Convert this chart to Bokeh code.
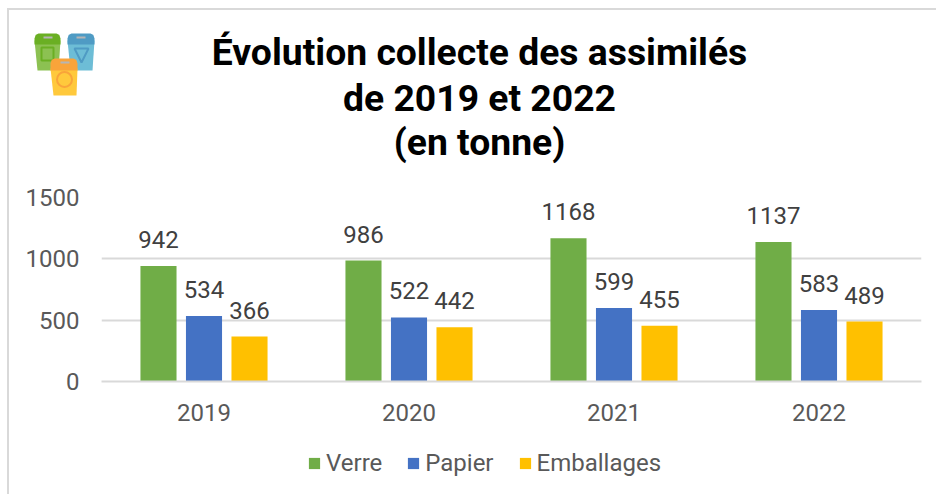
from bokeh.plotting import figure
from bokeh.layouts import column
from bokeh.embed import file_html
from bokeh.resources import INLINE
from bokeh.core.properties import value
from bokeh.models import ColumnDataSource, FactorRange, Range1d, LabelSet, Legend, LegendItem, FixedTicker
from bokeh.transform import dodge

years = ["2019", "2020", "2021", "2022"]
verre = [942, 986, 1168, 1137]
papier = [534, 522, 599, 583]
emballages = [366, 442, 455, 489]
series = [("Verre", verre, "#70ad47", -0.222), ("Papier", papier, "#4472c4", 0.0), ("Emballages", emballages, "#ffc000", 0.222)]
title_lines = ["Évolution collecte des assimilés", "de 2019 et 2022", "(en tonne)"]
y_ticks = [0, 500, 1000, 1500]

FONT = "Roboto"

# header: title and icon, in page pixels
head = figure(width=927, height=165, output_backend="svg", toolbar_location=None, frame_align=False,
              x_range=Range1d(9, 936), y_range=Range1d(175, 10),
              min_border=0, outline_line_color=None, border_fill_color="white", background_fill_color="white")
head.axis.visible = False
head.grid.visible = False
head.text(x=[479, 479, 479], y=[51.5, 97, 141], text=title_lines, text_align="center", text_baseline="middle",
          text_font=value(FONT), text_font_size=value("37.3px"), text_font_style="bold", text_color="black")

def rect(l, r, t, b, color):
    head.quad(left=l, right=r, top=t, bottom=b, fill_color=color, line_color=None)
def cap(l, r, t, b, color):
    head.patch([l, l + 1, l + 2, l + 4, r - 4, r - 2, r - 1, r, r, l], [t + 5, t + 2, t + 1, t, t, t + 1, t + 2, t + 5, b, b], fill_color=color, line_color=None)
def body(xs, ys, color):
    head.patch(xs, ys, fill_color=color, line_color=None)

body([34, 60, 58, 37], [40, 40, 70, 70], "#8cc152")
cap(34, 60, 33, 44, "#6aaf23")
rect(43, 52, 36, 38, "#b5b5b5")
head.patch([41, 53, 53, 41, 41], [47, 47, 60, 60, 47], fill_alpha=0, line_color="#6aaf23", line_width=2)
body([67, 94, 92, 70], [40, 40, 70, 70], "#6dbdd6")
cap(67, 94, 33, 44, "#4f9bc4")
rect(76, 85, 36, 38, "#b5b5b5")
head.patch([74, 88, 81, 74], [48, 48, 62, 48], fill_alpha=0, line_color="#4f9bc4", line_width=2)
body([50, 77, 76, 53], [68, 68, 95, 95], "#ffc93c")
cap(50, 77, 58, 70, "#f9a43a")
rect(60, 69, 61, 63, "#b5b5b5")
head.scatter(x=[64], y=[79], size=15, marker="circle", fill_alpha=0, line_color="#f9a43a", line_width=2)

# main chart
p = figure(width=927, height=265, frame_width=820, frame_height=184, output_backend="svg", toolbar_location=None, frame_align=False,
           x_range=FactorRange(factors=years, range_padding=0, factor_padding=0),
           y_range=Range1d(0, 1500),
           min_border_left=92, min_border_right=15, min_border_top=22, min_border_bottom=59,
           outline_line_color=None, background_fill_color="white", border_fill_color="white")

src = ColumnDataSource(dict(year=years, **{n: v for n, v, _, _ in series}))
for name, vals, col, off in series:
    p.vbar(x=dodge("year", off, range=p.x_range), top=name, width=0.176, bottom=0, source=src, fill_color=col, line_color=None)
    p.add_layout(LabelSet(x=dodge("year", off, range=p.x_range), y=name, text=name, source=src, text_align="center", text_baseline="bottom",
                          y_offset=18, text_font=value(FONT), text_font_size=value("24px"), text_color="#404040"))

p.xgrid.visible = False
p.ygrid.grid_line_color = "#d9d9d9"
p.ygrid.grid_line_width = 2
p.yaxis.ticker = FixedTicker(ticks=y_ticks)
for ax in (p.xaxis[0], p.yaxis[0]):
    ax.major_tick_line_color = None
    ax.minor_tick_line_color = None
    ax.major_label_text_font = FONT
    ax.major_label_text_font_size = "24px"
    ax.major_label_text_color = "#595959"
p.yaxis.axis_line_color = None
p.xaxis.axis_line_color = "#d9d9d9"
p.xaxis.axis_line_width = 2
p.yaxis.major_label_standoff = 16
p.xaxis.major_label_standoff = 16

# legend strip: its key glyphs lie outside this strip's range, only the legend shows
leg = figure(width=927, height=54, output_backend="svg", toolbar_location=None, frame_align=False,
             x_range=Range1d(0, 1), y_range=Range1d(0, 1),
             min_border=0, outline_line_color=None, border_fill_color="white", background_fill_color="white")
leg.axis.visible = False
leg.grid.visible = False
items = []
for name, vals, col, off in series:
    r = leg.vbar(x=[5], top=[6], bottom=[5], width=0.1, fill_color=col, line_color=None)
    items.append(LegendItem(label=name, renderers=[r]))
legend = Legend(items=items, orientation="horizontal", location=(298, 17), border_line_color=None, background_fill_alpha=0,
                label_text_font=FONT, label_text_font_size="24px", label_text_color="#595959",
                glyph_width=14, glyph_height=14, spacing=24, label_standoff=5, padding=0, margin=0)
leg.add_layout(legend, "center")

page = column(head, p, leg, spacing=0,
              styles={"margin-left": "7px", "margin-top": "8px", "border-left": "2px solid #d9d9d9", "border-top": "2px solid #d9d9d9"})

open("out.html", "w").write(file_html(page, INLINE))
